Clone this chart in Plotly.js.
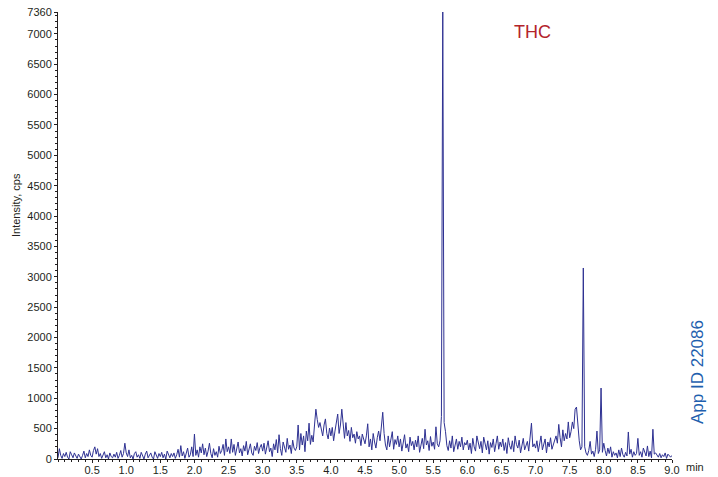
<!DOCTYPE html>
<html>
<head>
<meta charset="utf-8">
<script src="https://cdn.plot.ly/plotly-3.0.1.min.js"></script>
<style>html,body{margin:0;padding:0;background:#fff;}#chart{width:718px;height:477px;}</style>
</head>
<body>
<div id="chart"></div>
<script>
// Sampling of the chromatogram (minutes)
const timeStart = 0.0;
const timeStep = 0.02;

// Intensity (cps), one row per 0.5 min
const intensity0 = [20,170,60,10,90,40,110,30,0,120,70,20,100,50,10,80,30,0,60,130,20,90,40,150,60];
const intensity1 = [30,140,200,80,170,40,90,10,60,120,20,70,0,100,40,20,80,30,110,10,60,140,30,90,260];
const intensity2 = [100,40,150,20,60,0,90,120,30,70,10,110,50,0,80,130,20,60,100,30,0,120,70,10,90];
const intensity3 = [40,110,20,80,0,130,60,20,90,40,100,10,70,160,30,220,50,120,10,90,180,30,70,200,40];
const intensity4 = [410,60,150,30,200,100,250,70,180,40,130,260,90,20,170,60,120,30,210,90,140,240,60,330,120];
const intensity5 = [200,90,330,110,240,60,190,280,100,170,50,220,130,290,70,180,250,100,60,210,140,270,90,190,240];
const intensity6 = [130,260,80,220,300,120,180,40,250,150,320,100,400,170,60,280,200,110,340,160,230,90,310,180,140];
const intensity7 = [200,560,150,420,230,380,120,460,300,590,240,390,280,560,820,650,520,600,450,380,560,660,420,330,510];
const intensity8 = [380,520,300,460,610,740,420,560,820,500,340,600,380,470,290,520,350,410,260,450,330,380,220,410,300];
const intensity9 = [250,380,580,200,330,150,420,280,180,350,460,300,570,770,420,230,150,380,200,300,450,160,320,240,380];
const intensity10 = [200,330,130,280,400,180,250,120,360,220,290,150,310,200,380,110,260,340,170,490,230,300,140,370,210];
const intensity11 = [280,160,530,250,200,300,700,7360,600,450,220,140,300,180,380,120,260,330,160,290,200,360,150,270,230];
const intensity12 = [310,150,260,90,340,200,130,380,240,170,290,100,360,220,150,300,80,270,190,330,120,250,380,160,280];
const intensity13 = [200,330,140,270,90,350,220,160,300,120,380,240,180,310,100,260,340,150,230,290,130,320,590,200,250];
const intensity14 = [180,300,120,260,380,150,230,330,100,280,200,350,160,240,310,380,260,570,350,200,480,300,420,330,610];
const intensity15 = [350,450,610,500,820,855,520,300,150,200,3145,200,100,60,140,290,80,130,40,160,460,90,150,1168,110];
const intensity16 = [260,140,50,180,90,200,30,120,60,100,20,150,40,180,70,30,110,50,445,80,160,30,120,60,90];
const intensity17 = [340,60,120,30,180,90,50,215,40,130,20,490,80,100,60,30,90,20,70,40,100,10,80,50,30,60];

// Axis ticks
const yTickVals = [0,500,1000,1500,2000,2500,3000,3500,4000,4500,5000,5500,6000,6500,7000,7360];
const yTickText = ["0","500","1000","1500","2000","2500","3000","3500","4000","4500","5000","5500","6000","6500","7000","7360"];
const xTickVals = [0.5,1.0,1.5,2.0,2.5,3.0,3.5,4.0,4.5,5.0,5.5,6.0,6.5,7.0,7.5,8.0,8.5,9.0];
const xTickText = ["0.5","1.0","1.5","2.0","2.5","3.0","3.5","4.0","4.5","5.0","5.5","6.0","6.5","7.0","7.5","8.0","8.5","9.0"];

const y = [].concat(intensity0,intensity1,intensity2,intensity3,intensity4,intensity5,intensity6,
  intensity7,intensity8,intensity9,intensity10,intensity11,intensity12,intensity13,intensity14,
  intensity15,intensity16,intensity17);
const x = y.map((_, i) => +(timeStart + i * timeStep).toFixed(2));

const font = 'Liberation Sans, Arial, Helvetica, sans-serif';

const trace = {
  x: x, y: y, type: 'scatter', mode: 'lines',
  line: {color: '#2e3192', width: 1},
  hoverinfo: 'skip'
};

const layout = {
  width: 718, height: 477,
  margin: {l: 58, r: 46, t: 12, b: 18, pad: 0},
  paper_bgcolor: '#ffffff', plot_bgcolor: '#ffffff',
  showlegend: false,
  font: {family: font, size: 11, color: '#231f20'},
  xaxis: {
    range: [0, 9.0], showgrid: false, zeroline: false,
    showline: true, linecolor: '#231f20', linewidth: 1,
    tickmode: 'array', tickvals: xTickVals, ticktext: xTickText,
    ticks: 'outside', ticklen: 3, tickwidth: 1, tickcolor: '#231f20',
    ticklabelstandoff: -2,
    minor: {dtick: 0.1, ticks: 'outside', ticklen: 2, tickwidth: 1, tickcolor: '#231f20', showgrid: false},
    tickfont: {family: font, size: 11, color: '#231f20'},
    fixedrange: true
  },
  yaxis: {
    range: [0, 7360], showgrid: false, zeroline: false,
    showline: true, linecolor: '#231f20', linewidth: 1,
    tickmode: 'array', tickvals: yTickVals, ticktext: yTickText,
    ticks: 'outside', ticklen: 3, tickwidth: 1, tickcolor: '#231f20',
    minor: {dtick: 100, ticks: 'outside', ticklen: 2, tickwidth: 1, tickcolor: '#231f20', showgrid: false},
    tickfont: {family: font, size: 11, color: '#231f20'},
    fixedrange: true
  },
  annotations: [
    {text: 'THC', xref: 'paper', yref: 'paper', x: (532-58)/614, y: (465-38)/447,
     xanchor: 'center', yanchor: 'middle', showarrow: false,
     font: {family: font, size: 18, color: '#b3242b'}},
    {text: 'App ID 22086', xref: 'paper', yref: 'paper', x: (697-58)/614, y: (459-372)/447,
     xanchor: 'center', yanchor: 'middle', showarrow: false, textangle: -90,
     font: {family: font, size: 17, color: '#1f5fae'}},
    {text: 'Intensity, cps', xref: 'paper', yref: 'paper', x: (16-58)/614, y: (459-205)/447,
     xanchor: 'center', yanchor: 'middle', showarrow: false, textangle: -90,
     font: {family: font, size: 11, color: '#231f20'}},
    {text: 'min', xref: 'paper', yref: 'paper', x: (684-58)/614, y: (459-467)/447,
     xanchor: 'left', yanchor: 'middle', showarrow: false,
     font: {family: font, size: 11, color: '#231f20'}}
  ]
};

Plotly.newPlot('chart', [trace], layout, {displayModeBar: false, staticPlot: true});
</script>
</body>
</html>
